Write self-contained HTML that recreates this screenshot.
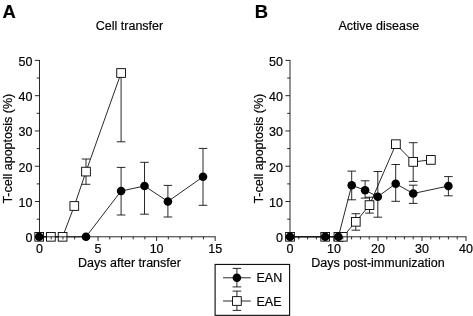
<!DOCTYPE html>
<html><head><meta charset="utf-8"><title>T-cell apoptosis</title>
<style>
html,body{margin:0;padding:0;background:#fff;}
svg{display:block;font-family:"Liberation Sans",Arial,Helvetica,sans-serif;fill:#000;}
text{stroke:#000;stroke-width:0.18px;}
</style></head>
<body>
<svg width="473" height="316" viewBox="0 0 473 316">
<rect width="473" height="316" fill="#fff"/>
<polyline fill="none" stroke="#111" stroke-width="0.9" points="39.20,236.80 50.90,236.80 62.60,236.80 74.30,206.00 86.00,171.60 121.10,73.00"/>
<polyline fill="none" stroke="#111" stroke-width="0.9" points="39.20,236.80 86.00,236.80 121.10,191.00 144.50,186.00 167.90,201.50 203.00,176.80"/>
<line x1="86.00" y1="159.00" x2="86.00" y2="184.30" stroke="#111" stroke-width="0.9"/><line x1="81.70" y1="159.00" x2="90.30" y2="159.00" stroke="#111" stroke-width="0.9"/><line x1="81.70" y1="184.30" x2="90.30" y2="184.30" stroke="#111" stroke-width="0.9"/>
<line x1="121.10" y1="73.00" x2="121.10" y2="141.80" stroke="#111" stroke-width="0.9"/>
<line x1="116.80" y1="141.80" x2="125.40" y2="141.80" stroke="#111" stroke-width="0.9"/>
<line x1="121.10" y1="167.40" x2="121.10" y2="215.00" stroke="#111" stroke-width="0.9"/><line x1="116.80" y1="167.40" x2="125.40" y2="167.40" stroke="#111" stroke-width="0.9"/><line x1="116.80" y1="215.00" x2="125.40" y2="215.00" stroke="#111" stroke-width="0.9"/>
<line x1="144.50" y1="162.30" x2="144.50" y2="214.20" stroke="#111" stroke-width="0.9"/><line x1="140.20" y1="162.30" x2="148.80" y2="162.30" stroke="#111" stroke-width="0.9"/><line x1="140.20" y1="214.20" x2="148.80" y2="214.20" stroke="#111" stroke-width="0.9"/>
<line x1="167.90" y1="185.40" x2="167.90" y2="217.00" stroke="#111" stroke-width="0.9"/><line x1="163.60" y1="185.40" x2="172.20" y2="185.40" stroke="#111" stroke-width="0.9"/><line x1="163.60" y1="217.00" x2="172.20" y2="217.00" stroke="#111" stroke-width="0.9"/>
<line x1="203.00" y1="148.40" x2="203.00" y2="205.30" stroke="#111" stroke-width="0.9"/><line x1="198.70" y1="148.40" x2="207.30" y2="148.40" stroke="#111" stroke-width="0.9"/><line x1="198.70" y1="205.30" x2="207.30" y2="205.30" stroke="#111" stroke-width="0.9"/>
<rect x="34.85" y="232.45" width="8.7" height="8.7" fill="#fff" stroke="#000" stroke-width="0.9"/>
<rect x="46.55" y="232.45" width="8.7" height="8.7" fill="#fff" stroke="#000" stroke-width="0.9"/>
<rect x="58.25" y="232.45" width="8.7" height="8.7" fill="#fff" stroke="#000" stroke-width="0.9"/>
<rect x="69.95" y="201.65" width="8.7" height="8.7" fill="#fff" stroke="#000" stroke-width="0.9"/>
<rect x="81.65" y="167.25" width="8.7" height="8.7" fill="#fff" stroke="#000" stroke-width="0.9"/>
<rect x="116.75" y="68.65" width="8.7" height="8.7" fill="#fff" stroke="#000" stroke-width="0.9"/>
<line x1="39.50" y1="59.95" x2="39.50" y2="237.25" stroke="#111" stroke-width="0.9"/><line x1="34.90" y1="236.80" x2="39.50" y2="236.80" stroke="#111" stroke-width="0.9"/><text x="32.50" y="242.20" text-anchor="end" font-size="12.5" font-weight="normal" >0</text><line x1="36.70" y1="219.16" x2="39.50" y2="219.16" stroke="#111" stroke-width="0.9"/><line x1="34.90" y1="201.52" x2="39.50" y2="201.52" stroke="#111" stroke-width="0.9"/><text x="32.50" y="206.92" text-anchor="end" font-size="12.5" font-weight="normal" >10</text><line x1="36.70" y1="183.88" x2="39.50" y2="183.88" stroke="#111" stroke-width="0.9"/><line x1="34.90" y1="166.24" x2="39.50" y2="166.24" stroke="#111" stroke-width="0.9"/><text x="32.50" y="171.64" text-anchor="end" font-size="12.5" font-weight="normal" >20</text><line x1="36.70" y1="148.60" x2="39.50" y2="148.60" stroke="#111" stroke-width="0.9"/><line x1="34.90" y1="130.96" x2="39.50" y2="130.96" stroke="#111" stroke-width="0.9"/><text x="32.50" y="136.36" text-anchor="end" font-size="12.5" font-weight="normal" >30</text><line x1="36.70" y1="113.32" x2="39.50" y2="113.32" stroke="#111" stroke-width="0.9"/><line x1="34.90" y1="95.68" x2="39.50" y2="95.68" stroke="#111" stroke-width="0.9"/><text x="32.50" y="101.08" text-anchor="end" font-size="12.5" font-weight="normal" >40</text><line x1="36.70" y1="78.04" x2="39.50" y2="78.04" stroke="#111" stroke-width="0.9"/><line x1="34.90" y1="60.40" x2="39.50" y2="60.40" stroke="#111" stroke-width="0.9"/><text x="32.50" y="65.80" text-anchor="end" font-size="12.5" font-weight="normal" >50</text><line x1="39.05" y1="236.80" x2="215.60" y2="236.80" stroke="#111" stroke-width="0.9"/><line x1="39.50" y1="236.80" x2="39.50" y2="241.00" stroke="#111" stroke-width="0.9"/><text x="39.50" y="252.60" text-anchor="middle" font-size="12.5" font-weight="normal" >0</text><line x1="51.21" y1="236.80" x2="51.21" y2="239.40" stroke="#111" stroke-width="0.9"/><line x1="62.92" y1="236.80" x2="62.92" y2="239.40" stroke="#111" stroke-width="0.9"/><line x1="74.63" y1="236.80" x2="74.63" y2="239.40" stroke="#111" stroke-width="0.9"/><line x1="86.34" y1="236.80" x2="86.34" y2="239.40" stroke="#111" stroke-width="0.9"/><line x1="98.05" y1="236.80" x2="98.05" y2="241.00" stroke="#111" stroke-width="0.9"/><text x="98.05" y="252.60" text-anchor="middle" font-size="12.5" font-weight="normal" >5</text><line x1="109.76" y1="236.80" x2="109.76" y2="239.40" stroke="#111" stroke-width="0.9"/><line x1="121.47" y1="236.80" x2="121.47" y2="239.40" stroke="#111" stroke-width="0.9"/><line x1="133.18" y1="236.80" x2="133.18" y2="239.40" stroke="#111" stroke-width="0.9"/><line x1="144.89" y1="236.80" x2="144.89" y2="239.40" stroke="#111" stroke-width="0.9"/><line x1="156.60" y1="236.80" x2="156.60" y2="241.00" stroke="#111" stroke-width="0.9"/><text x="156.60" y="252.60" text-anchor="middle" font-size="12.5" font-weight="normal" >10</text><line x1="168.31" y1="236.80" x2="168.31" y2="239.40" stroke="#111" stroke-width="0.9"/><line x1="180.02" y1="236.80" x2="180.02" y2="239.40" stroke="#111" stroke-width="0.9"/><line x1="191.73" y1="236.80" x2="191.73" y2="239.40" stroke="#111" stroke-width="0.9"/><line x1="203.44" y1="236.80" x2="203.44" y2="239.40" stroke="#111" stroke-width="0.9"/><line x1="215.15" y1="236.80" x2="215.15" y2="241.00" stroke="#111" stroke-width="0.9"/><text x="215.15" y="252.60" text-anchor="middle" font-size="12.5" font-weight="normal" >15</text>
<circle cx="39.20" cy="236.80" r="4.3" fill="#000"/>
<circle cx="86.00" cy="236.80" r="4.3" fill="#000"/>
<circle cx="121.10" cy="191.00" r="4.3" fill="#000"/>
<circle cx="144.50" cy="186.00" r="4.3" fill="#000"/>
<circle cx="167.90" cy="201.50" r="4.3" fill="#000"/>
<circle cx="203.00" cy="176.80" r="4.3" fill="#000"/>
<text x="2.60" y="17.50" text-anchor="start" font-size="18.4" font-weight="bold" stroke="#111" stroke-width="0.4">A</text>
<text x="129.50" y="30.30" text-anchor="middle" font-size="12.5" font-weight="normal" >Cell transfer</text>
<text x="129.50" y="267.40" text-anchor="middle" font-size="12.5" font-weight="normal" >Days after transfer</text>
<text x="0.00" y="0.00" text-anchor="middle" font-size="12.5" font-weight="normal" transform="translate(12.0,148.7) rotate(-90)">T-cell apoptosis (%)</text>
<polyline fill="none" stroke="#111" stroke-width="0.9" points="290.00,236.80 325.20,236.80 338.40,236.80 342.80,236.80 355.80,221.80 369.50,205.10 395.90,144.20 413.20,161.90 430.90,159.90"/>
<polyline fill="none" stroke="#111" stroke-width="0.9" points="290.00,236.80 325.20,236.80 338.40,236.80 351.70,185.30 365.10,190.20 377.80,196.70 395.70,183.70 413.20,193.50 448.40,186.00"/>
<line x1="355.80" y1="213.70" x2="355.80" y2="230.20" stroke="#111" stroke-width="0.9"/><line x1="351.50" y1="213.70" x2="360.10" y2="213.70" stroke="#111" stroke-width="0.9"/><line x1="351.50" y1="230.20" x2="360.10" y2="230.20" stroke="#111" stroke-width="0.9"/>
<line x1="369.50" y1="197.20" x2="369.50" y2="213.10" stroke="#111" stroke-width="0.9"/><line x1="365.20" y1="197.20" x2="373.80" y2="197.20" stroke="#111" stroke-width="0.9"/><line x1="365.20" y1="213.10" x2="373.80" y2="213.10" stroke="#111" stroke-width="0.9"/>
<line x1="413.20" y1="142.70" x2="413.20" y2="181.40" stroke="#111" stroke-width="0.9"/><line x1="408.90" y1="142.70" x2="417.50" y2="142.70" stroke="#111" stroke-width="0.9"/><line x1="408.90" y1="181.40" x2="417.50" y2="181.40" stroke="#111" stroke-width="0.9"/>
<line x1="351.70" y1="171.10" x2="351.70" y2="199.80" stroke="#111" stroke-width="0.9"/><line x1="347.40" y1="171.10" x2="356.00" y2="171.10" stroke="#111" stroke-width="0.9"/><line x1="347.40" y1="199.80" x2="356.00" y2="199.80" stroke="#111" stroke-width="0.9"/>
<line x1="365.10" y1="180.80" x2="365.10" y2="198.10" stroke="#111" stroke-width="0.9"/><line x1="360.80" y1="180.80" x2="369.40" y2="180.80" stroke="#111" stroke-width="0.9"/><line x1="360.80" y1="198.10" x2="369.40" y2="198.10" stroke="#111" stroke-width="0.9"/>
<line x1="377.80" y1="171.50" x2="377.80" y2="217.20" stroke="#111" stroke-width="0.9"/><line x1="373.50" y1="171.50" x2="382.10" y2="171.50" stroke="#111" stroke-width="0.9"/><line x1="373.50" y1="217.20" x2="382.10" y2="217.20" stroke="#111" stroke-width="0.9"/>
<line x1="395.70" y1="164.50" x2="395.70" y2="201.30" stroke="#111" stroke-width="0.9"/><line x1="391.40" y1="164.50" x2="400.00" y2="164.50" stroke="#111" stroke-width="0.9"/><line x1="391.40" y1="201.30" x2="400.00" y2="201.30" stroke="#111" stroke-width="0.9"/>
<line x1="413.20" y1="185.20" x2="413.20" y2="203.40" stroke="#111" stroke-width="0.9"/><line x1="408.90" y1="185.20" x2="417.50" y2="185.20" stroke="#111" stroke-width="0.9"/><line x1="408.90" y1="203.40" x2="417.50" y2="203.40" stroke="#111" stroke-width="0.9"/>
<line x1="448.40" y1="176.60" x2="448.40" y2="195.80" stroke="#111" stroke-width="0.9"/><line x1="444.10" y1="176.60" x2="452.70" y2="176.60" stroke="#111" stroke-width="0.9"/><line x1="444.10" y1="195.80" x2="452.70" y2="195.80" stroke="#111" stroke-width="0.9"/>
<rect x="285.65" y="232.45" width="8.7" height="8.7" fill="#fff" stroke="#000" stroke-width="0.9"/>
<rect x="320.85" y="232.45" width="8.7" height="8.7" fill="#fff" stroke="#000" stroke-width="0.9"/>
<rect x="334.05" y="232.45" width="8.7" height="8.7" fill="#fff" stroke="#000" stroke-width="0.9"/>
<rect x="338.45" y="232.45" width="8.7" height="8.7" fill="#fff" stroke="#000" stroke-width="0.9"/>
<rect x="351.45" y="217.45" width="8.7" height="8.7" fill="#fff" stroke="#000" stroke-width="0.9"/>
<rect x="365.15" y="200.75" width="8.7" height="8.7" fill="#fff" stroke="#000" stroke-width="0.9"/>
<rect x="391.55" y="139.85" width="8.7" height="8.7" fill="#fff" stroke="#000" stroke-width="0.9"/>
<rect x="408.85" y="157.55" width="8.7" height="8.7" fill="#fff" stroke="#000" stroke-width="0.9"/>
<rect x="426.55" y="155.55" width="8.7" height="8.7" fill="#fff" stroke="#000" stroke-width="0.9"/>
<line x1="290.00" y1="59.95" x2="290.00" y2="237.25" stroke="#111" stroke-width="0.9"/><line x1="285.40" y1="236.80" x2="290.00" y2="236.80" stroke="#111" stroke-width="0.9"/><text x="283.00" y="242.20" text-anchor="end" font-size="12.5" font-weight="normal" >0</text><line x1="287.20" y1="219.16" x2="290.00" y2="219.16" stroke="#111" stroke-width="0.9"/><line x1="285.40" y1="201.52" x2="290.00" y2="201.52" stroke="#111" stroke-width="0.9"/><text x="283.00" y="206.92" text-anchor="end" font-size="12.5" font-weight="normal" >10</text><line x1="287.20" y1="183.88" x2="290.00" y2="183.88" stroke="#111" stroke-width="0.9"/><line x1="285.40" y1="166.24" x2="290.00" y2="166.24" stroke="#111" stroke-width="0.9"/><text x="283.00" y="171.64" text-anchor="end" font-size="12.5" font-weight="normal" >20</text><line x1="287.20" y1="148.60" x2="290.00" y2="148.60" stroke="#111" stroke-width="0.9"/><line x1="285.40" y1="130.96" x2="290.00" y2="130.96" stroke="#111" stroke-width="0.9"/><text x="283.00" y="136.36" text-anchor="end" font-size="12.5" font-weight="normal" >30</text><line x1="287.20" y1="113.32" x2="290.00" y2="113.32" stroke="#111" stroke-width="0.9"/><line x1="285.40" y1="95.68" x2="290.00" y2="95.68" stroke="#111" stroke-width="0.9"/><text x="283.00" y="101.08" text-anchor="end" font-size="12.5" font-weight="normal" >40</text><line x1="287.20" y1="78.04" x2="290.00" y2="78.04" stroke="#111" stroke-width="0.9"/><line x1="285.40" y1="60.40" x2="290.00" y2="60.40" stroke="#111" stroke-width="0.9"/><text x="283.00" y="65.80" text-anchor="end" font-size="12.5" font-weight="normal" >50</text><line x1="289.55" y1="236.80" x2="466.45" y2="236.80" stroke="#111" stroke-width="0.9"/><line x1="290.00" y1="236.80" x2="290.00" y2="241.00" stroke="#111" stroke-width="0.9"/><text x="290.00" y="252.60" text-anchor="middle" font-size="12.5" font-weight="normal" >0</text><line x1="298.80" y1="236.80" x2="298.80" y2="239.40" stroke="#111" stroke-width="0.9"/><line x1="307.60" y1="236.80" x2="307.60" y2="239.40" stroke="#111" stroke-width="0.9"/><line x1="316.40" y1="236.80" x2="316.40" y2="239.40" stroke="#111" stroke-width="0.9"/><line x1="325.20" y1="236.80" x2="325.20" y2="239.40" stroke="#111" stroke-width="0.9"/><line x1="334.00" y1="236.80" x2="334.00" y2="241.00" stroke="#111" stroke-width="0.9"/><text x="334.00" y="252.60" text-anchor="middle" font-size="12.5" font-weight="normal" >10</text><line x1="342.80" y1="236.80" x2="342.80" y2="239.40" stroke="#111" stroke-width="0.9"/><line x1="351.60" y1="236.80" x2="351.60" y2="239.40" stroke="#111" stroke-width="0.9"/><line x1="360.40" y1="236.80" x2="360.40" y2="239.40" stroke="#111" stroke-width="0.9"/><line x1="369.20" y1="236.80" x2="369.20" y2="239.40" stroke="#111" stroke-width="0.9"/><line x1="378.00" y1="236.80" x2="378.00" y2="241.00" stroke="#111" stroke-width="0.9"/><text x="378.00" y="252.60" text-anchor="middle" font-size="12.5" font-weight="normal" >20</text><line x1="386.80" y1="236.80" x2="386.80" y2="239.40" stroke="#111" stroke-width="0.9"/><line x1="395.60" y1="236.80" x2="395.60" y2="239.40" stroke="#111" stroke-width="0.9"/><line x1="404.40" y1="236.80" x2="404.40" y2="239.40" stroke="#111" stroke-width="0.9"/><line x1="413.20" y1="236.80" x2="413.20" y2="239.40" stroke="#111" stroke-width="0.9"/><line x1="422.00" y1="236.80" x2="422.00" y2="241.00" stroke="#111" stroke-width="0.9"/><text x="422.00" y="252.60" text-anchor="middle" font-size="12.5" font-weight="normal" >30</text><line x1="430.80" y1="236.80" x2="430.80" y2="239.40" stroke="#111" stroke-width="0.9"/><line x1="439.60" y1="236.80" x2="439.60" y2="239.40" stroke="#111" stroke-width="0.9"/><line x1="448.40" y1="236.80" x2="448.40" y2="239.40" stroke="#111" stroke-width="0.9"/><line x1="457.20" y1="236.80" x2="457.20" y2="239.40" stroke="#111" stroke-width="0.9"/><line x1="466.00" y1="236.80" x2="466.00" y2="241.00" stroke="#111" stroke-width="0.9"/><text x="466.00" y="252.60" text-anchor="middle" font-size="12.5" font-weight="normal" >40</text>
<circle cx="290.00" cy="236.80" r="4.3" fill="#000"/>
<circle cx="325.20" cy="236.80" r="4.3" fill="#000"/>
<circle cx="338.40" cy="236.80" r="4.3" fill="#000"/>
<circle cx="351.70" cy="185.30" r="4.3" fill="#000"/>
<circle cx="365.10" cy="190.20" r="4.3" fill="#000"/>
<circle cx="377.80" cy="196.70" r="4.3" fill="#000"/>
<circle cx="395.70" cy="183.70" r="4.3" fill="#000"/>
<circle cx="413.20" cy="193.50" r="4.3" fill="#000"/>
<circle cx="448.40" cy="186.00" r="4.3" fill="#000"/>
<text x="254.80" y="17.50" text-anchor="start" font-size="18.4" font-weight="bold" stroke="#111" stroke-width="0.4">B</text>
<text x="378.80" y="30.00" text-anchor="middle" font-size="12.5" font-weight="normal" >Active disease</text>
<text x="378.00" y="267.40" text-anchor="middle" font-size="12.5" font-weight="normal" >Days post-immunization</text>
<text x="0.00" y="0.00" text-anchor="middle" font-size="12.5" font-weight="normal" transform="translate(262.5,148.7) rotate(-90)">T-cell apoptosis (%)</text>
<rect x="215.1" y="264.45" width="74.5" height="50.9" fill="#fff" stroke="#111" stroke-width="1.15"/>
<line x1="223.00" y1="277.80" x2="250.80" y2="277.80" stroke="#111" stroke-width="0.9"/>
<line x1="236.90" y1="268.40" x2="236.90" y2="286.90" stroke="#111" stroke-width="0.9"/><line x1="232.60" y1="268.40" x2="241.20" y2="268.40" stroke="#111" stroke-width="0.9"/><line x1="232.60" y1="286.90" x2="241.20" y2="286.90" stroke="#111" stroke-width="0.9"/>
<circle cx="236.90" cy="277.80" r="4.3" fill="#000"/>
<line x1="223.00" y1="301.00" x2="250.80" y2="301.00" stroke="#111" stroke-width="0.9"/>
<line x1="236.90" y1="291.10" x2="236.90" y2="310.40" stroke="#111" stroke-width="0.9"/><line x1="232.60" y1="291.10" x2="241.20" y2="291.10" stroke="#111" stroke-width="0.9"/><line x1="232.60" y1="310.40" x2="241.20" y2="310.40" stroke="#111" stroke-width="0.9"/>
<rect x="232.55" y="296.65" width="8.7" height="8.7" fill="#fff" stroke="#000" stroke-width="0.9"/>
<text x="256.50" y="282.20" text-anchor="start" font-size="12.5" font-weight="normal" >EAN</text>
<text x="256.50" y="305.50" text-anchor="start" font-size="12.5" font-weight="normal" >EAE</text>
</svg>
</body></html>
